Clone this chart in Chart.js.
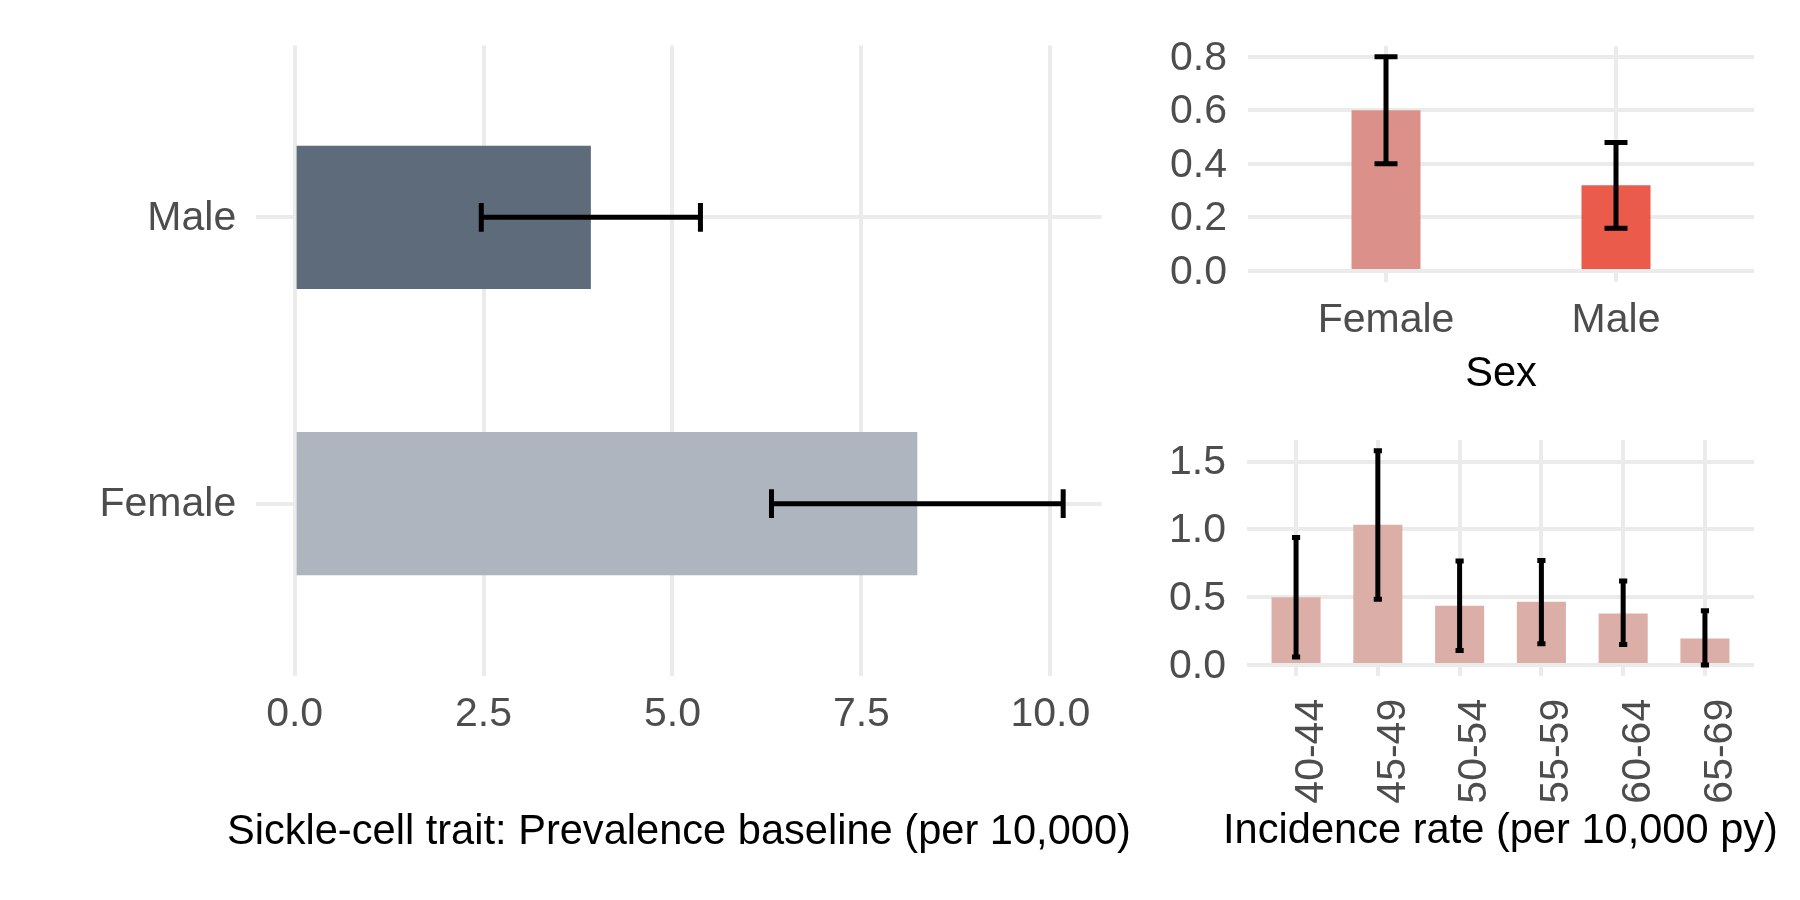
<!DOCTYPE html>
<html>
<head>
<meta charset="utf-8">
<title>Sickle-cell trait</title>
<script src="https://cdn.jsdelivr.net/npm/chart.js@4.4.1/dist/chart.umd.min.js"></script>
<style>
  html, body { margin: 0; padding: 0; background: #fff; overflow: hidden; }
  body { width: 1800px; height: 900px; position: relative; }
  canvas { position: absolute; }
  #prevChart { left: 0; top: 0; }
  #sexChart { left: 1130px; top: 0; }
  #ageChart { left: 1130px; top: 380px; }
</style>
</head>
<body>
<canvas id="prevChart" width="1150" height="900"></canvas>
<canvas id="sexChart" width="670" height="430"></canvas>
<canvas id="ageChart" width="670" height="520"></canvas>
<script>
// prevalence at baseline, per 10,000
const sexLabels = ['Female', 'Male'];
const prevalence = [8.24, 3.92];
const prevLow = [6.31, 2.47];
const prevHigh = [10.17, 5.37];
const prevTicks = [0, 2.5, 5, 7.5, 10];

// incidence by sex, per 10,000 py
const incidenceSex = [0.60, 0.32];
const incSexLow = [0.40, 0.16];
const incSexHigh = [0.80, 0.48];
const sexTicks = [0, 0.2, 0.4, 0.6, 0.8];

// incidence by age group, per 10,000 py
const ageGroups = ['40-44', '45-49', '50-54', '55-59', '60-64', '65-69'];
const incidenceAge = [0.50, 1.035, 0.437, 0.466, 0.38, 0.196];
const incAgeLow = [0.06, 0.485, 0.108, 0.158, 0.152, 0.0];
const incAgeHigh = [0.94, 1.58, 0.767, 0.77, 0.62, 0.40];
const ageTicks = [0, 0.5, 1.0, 1.5];

Chart.defaults.font.family = "'Liberation Sans', Arial, sans-serif";
Chart.defaults.font.size = 41;
Chart.defaults.color = '#4D4D4D';
Chart.defaults.animation = false;
Chart.defaults.plugins.legend.display = false;
Chart.defaults.plugins.tooltip.enabled = false;

const grid = { color: '#EBEBEB', lineWidth: 4, drawTicks: false, offset: false };
const titleFont = { size: 41.6 };

// like ggplot: 5% room around the data, bars start at zero
function valueLimits(highs) {
    const top = Math.max(...highs);
    return { min: -0.05 * top, max: 1.05 * top };
}

// discrete axis drawn on a linear scale so the 0.6 expansion matches ggplot
function categoryAxis(labels) {
    return {
        type: 'linear',
        min: 0.4,
        max: labels.length + 0.6,
        offset: false,
        grid: grid,
        border: { display: false },
        afterBuildTicks: axis => { axis.ticks = labels.map((l, i) => ({ value: i + 1 })); }
    };
}

function valueAxis(highs, tickValues) {
    return Object.assign(valueLimits(highs), {
        type: 'linear',
        grid: grid,
        border: { display: false },
        afterBuildTicks: axis => { axis.ticks = tickValues.map(v => ({ value: v })); }
    });
}

function errorBars(lows, highs) {
    return {
        id: 'errorBars',
        afterDatasetsDraw(chart) {
            const flip = chart.options.indexAxis === 'y';
            const catScale = flip ? chart.scales.y : chart.scales.x;
            const valScale = flip ? chart.scales.x : chart.scales.y;
            const pt = (v, c) => flip ? [v, c] : [c, v];
            const ctx = chart.ctx;
            ctx.save();
            ctx.strokeStyle = '#000';
            ctx.lineWidth = 5;
            lows.forEach((low, i) => {
                const c = catScale.getPixelForValue(i + 1);
                const half = Math.abs(catScale.getPixelForValue(i + 1.05) - c);
                const a = valScale.getPixelForValue(low);
                const b = valScale.getPixelForValue(highs[i]);
                ctx.beginPath();
                ctx.moveTo(...pt(a, c)); ctx.lineTo(...pt(b, c));
                ctx.moveTo(...pt(a, c - half)); ctx.lineTo(...pt(a, c + half));
                ctx.moveTo(...pt(b, c - half)); ctx.lineTo(...pt(b, c + half));
                ctx.stroke();
            });
            ctx.restore();
        }
    };
}

// the long x titles run past the panel in the original, so give them room
const wideTitle = {
    id: 'wideTitle',
    afterLayout(chart) {
        chart.scales.x.left -= 150;
        chart.scales.x.right += 150;
    }
};

// left: prevalence, horizontal bars
let prevY = categoryAxis(sexLabels);
prevY.afterFit = s => { s.width = 256.2; };
prevY.ticks = { autoSkip: false, padding: 20, labelOffset: 1.5, callback: v => sexLabels[v - 1] };

let prevX = valueAxis(prevHigh, prevTicks);
prevX.afterFit = s => { s.height = 224.5; };
prevX.ticks = { autoSkip: false, padding: 15, callback: v => v.toFixed(1) };
prevX.title = {
    display: true,
    text: 'Sickle-cell trait: Prevalence baseline (per 10,000)',
    color: '#000',
    font: titleFont,
    padding: { top: 0, bottom: 43 }
};

new Chart(document.getElementById('prevChart'), {
    type: 'bar',
    data: {
        datasets: [{
            data: prevalence.map((v, i) => ({ x: v, y: i + 1 })),
            backgroundColor: ['#AEB5BF', '#5D6B7B'],
            categoryPercentage: 1,
            barPercentage: 0.5
        }]
    },
    options: {
        indexAxis: 'y',
        responsive: false,
        layout: { padding: { top: 45.5, right: 48.4, bottom: 0, left: 0 } },
        scales: { x: prevX, y: prevY }
    },
    plugins: [errorBars(prevLow, prevHigh), wideTitle]
});

// top right: incidence by sex
let sexX = categoryAxis(sexLabels);
sexX.afterFit = s => { s.height = 148.3; };
sexX.ticks = { autoSkip: false, padding: 14, maxRotation: 0, callback: v => sexLabels[v - 1] };
sexX.title = { display: true, text: 'Sex', color: '#000', font: titleFont, padding: { top: 0, bottom: 31 } };

let sexY = valueAxis(incSexHigh, sexTicks);
sexY.afterFit = s => { s.width = 118; };
sexY.ticks = { autoSkip: false, padding: 21, labelOffset: 1.5, callback: v => v.toFixed(1) };

new Chart(document.getElementById('sexChart'), {
    type: 'bar',
    data: {
        datasets: [{
            data: incidenceSex.map((v, i) => ({ x: i + 1, y: v })),
            backgroundColor: ['#DB918A', '#EB5B4B'],
            categoryPercentage: 1,
            barPercentage: 0.3
        }]
    },
    options: {
        responsive: false,
        layout: { padding: { top: 46, right: 46, bottom: 0, left: 0 } },
        scales: { x: sexX, y: sexY }
    },
    plugins: [errorBars(incSexLow, incSexHigh)]
});

// bottom right: incidence by age group
let ageX = categoryAxis(ageGroups);
ageX.afterFit = s => { s.height = 224.2; };
ageX.ticks = {
    autoSkip: false,
    padding: 23,
    labelOffset: 15.5,
    minRotation: 90,
    maxRotation: 90,
    callback: v => ageGroups[v - 1]
};
ageX.title = {
    display: true,
    text: 'Incidence rate (per 10,000 py)',
    color: '#000',
    font: titleFont,
    padding: { top: 0, bottom: 44 }
};

let ageY = valueAxis(incAgeHigh, ageTicks);
ageY.afterFit = s => { s.width = 117; };
ageY.ticks = { autoSkip: false, padding: 21, labelOffset: 1.5, callback: v => v.toFixed(1) };

new Chart(document.getElementById('ageChart'), {
    type: 'bar',
    data: {
        datasets: [{
            data: incidenceAge.map((v, i) => ({ x: i + 1, y: v })),
            backgroundColor: '#DBAFA8',
            categoryPercentage: 1,
            barPercentage: 0.6
        }]
    },
    options: {
        responsive: false,
        layout: { padding: { top: 60, right: 46, bottom: 0, left: 0 } },
        scales: { x: ageX, y: ageY }
    },
    plugins: [errorBars(incAgeLow, incAgeHigh), wideTitle]
});
</script>
</body>
</html>
